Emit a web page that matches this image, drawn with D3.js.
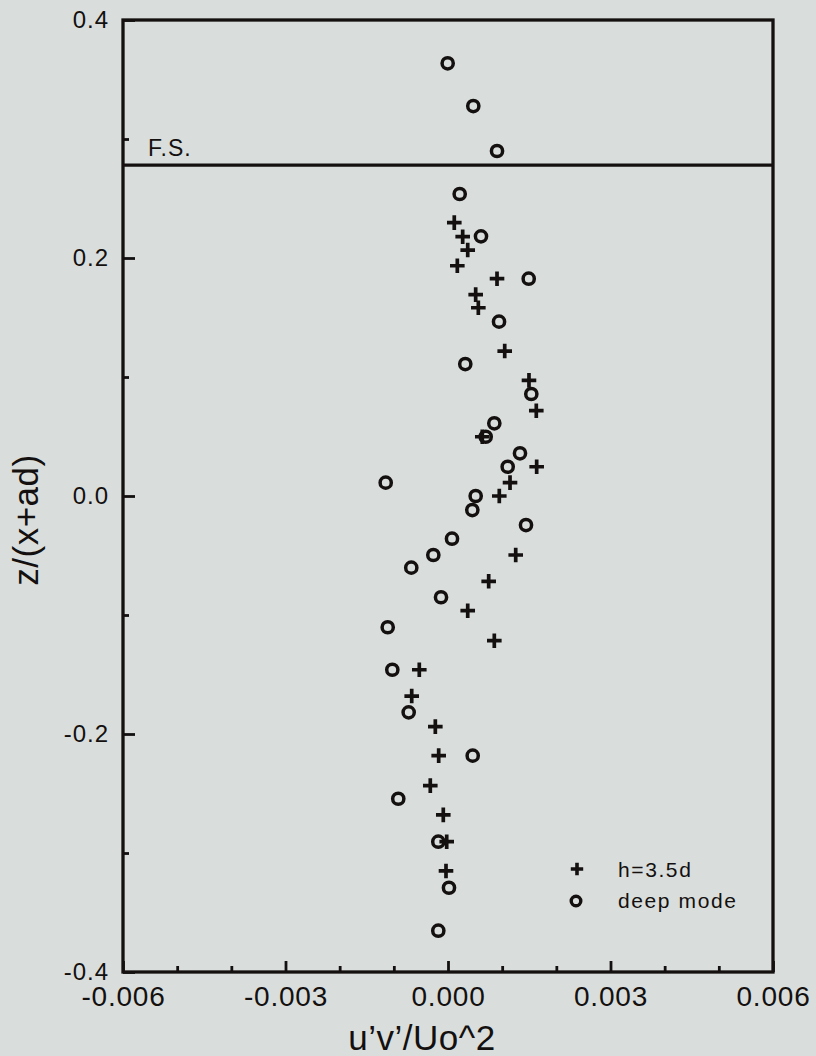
<!DOCTYPE html>
<html>
<head>
<meta charset="utf-8">
<script src="https://cdn.jsdelivr.net/npm/d3@7"></script>
<style>
  html, body { margin: 0; padding: 0; background: #d9dedc; }
  svg { display: block; }
  text { font-family: "Liberation Sans", Arial, sans-serif; fill: #141010; }
</style>
</head>
<body>
<div id="chart"></div>
<script>
// h=3.5d series (plus markers)
const hX = [0.000116, 0.000271, 0.000364, 0.000172, 0.000905, 0.000511, 0.00056, 0.001047,
  0.001495, 0.00163, 0.000633, 0.001637, 0.001145, 0.000947, 0.00125, 0.000751, 0.000364,
  0.000855, -0.00053, -0.00067, -0.000234, -0.000172, -0.000327, -0.000087, -0.000024, -0.000037];
const hZ = [0.2297, 0.2179, 0.2067, 0.1935, 0.1826, 0.1692, 0.1582, 0.1218,
  0.0972, 0.0717, 0.0498, 0.0246, 0.0112, 0.0, -0.0496, -0.0717, -0.0964,
  -0.1216, -0.146, -0.1681, -0.1938, -0.2182, -0.2434, -0.268, -0.2905, -0.3151];

// deep mode series (circle markers)
const deepX = [-0.000006, 0.000467, 0.000905, 0.000216, 0.000609, 0.00149, 0.000942, 0.000319,
  0.001538, 0.000855, 0.000696, 0.001329, 0.001102, -0.00115, 0.000511, 0.000449, 0.00144,
  0.000074, -0.000271, -0.000678, -0.000129, -0.001113, -0.001028, -0.000726, 0.000456,
  -0.000918, -0.000179, 0.000018, -0.000179];
const deepZ = [0.3636, 0.3277, 0.2899, 0.2538, 0.2182, 0.1826, 0.1465, 0.1109,
  0.0857, 0.0611, 0.0498, 0.0359, 0.0246, 0.0112, 0.0, -0.0118, -0.0244,
  -0.0359, -0.0496, -0.0602, -0.0851, -0.1103, -0.146, -0.1818, -0.2182,
  -0.2544, -0.2905, -0.3292, -0.3653];

const freeSurface = 0.278;

const xMajor = [-0.006, -0.003, 0, 0.003, 0.006];
const xMinor = [-0.005, -0.004, -0.002, -0.001, 0.001, 0.002, 0.004, 0.005];
const yMajor = [-0.4, -0.2, 0, 0.2, 0.4];
const yMinor = [-0.3, -0.1, 0.1, 0.3];

const seriesLabels = ["h=3.5d", "deep mode"];

const W = 816, H = 1056;
const ink = "#141010";
const margin = { left: 123, right: W - 773, top: 20, bottom: H - 972 };

const svg = d3.select("#chart").append("svg")
  .attr("width", W).attr("height", H);

svg.append("rect").attr("width", W).attr("height", H).attr("fill", "#d9dedc");

const x = d3.scaleLinear().domain([-0.006, 0.006]).range([margin.left, W - margin.right]);
const y = d3.scaleLinear().domain([-0.4, 0.4]).range([H - margin.bottom, margin.top]);

// minor ticks (no labels)
svg.append("g")
  .attr("transform", `translate(0,${y(-0.4)})`)
  .call(d3.axisBottom(x).tickValues(xMinor).tickSize(-6).tickFormat(""))
  .call(g => g.select(".domain").remove());
svg.append("g")
  .attr("transform", `translate(${x(-0.006)},0)`)
  .call(d3.axisLeft(y).tickValues(yMinor).tickSize(-6).tickFormat(""))
  .call(g => g.select(".domain").remove());

// major ticks with labels
const xAxis = svg.append("g")
  .attr("transform", `translate(0,${y(-0.4)})`)
  .call(d3.axisBottom(x).tickValues(xMajor).tickSize(-11).tickPadding(14)
    .tickFormat(d => d.toFixed(3)))
  .call(g => g.select(".domain").remove());
xAxis.selectAll("text")
  .style("font-size", "28px").style("letter-spacing", "0.8px")
  .attr("font-family", null).attr("fill", ink);

const yAxis = svg.append("g")
  .attr("transform", `translate(${x(-0.006)},0)`)
  .call(d3.axisLeft(y).tickValues(yMajor).tickSize(-12).tickPadding(14)
    .tickFormat(d => d.toFixed(1)))
  .call(g => g.select(".domain").remove());
yAxis.selectAll("text")
  .style("font-size", "24px").style("letter-spacing", "1px")
  .attr("font-family", null).attr("fill", ink);

svg.selectAll(".tick line").attr("stroke", ink).attr("stroke-width", 2.8);

// frame
svg.append("rect")
  .attr("x", x(-0.006)).attr("y", y(0.4))
  .attr("width", x(0.006) - x(-0.006)).attr("height", y(-0.4) - y(0.4))
  .attr("fill", "none").attr("stroke", ink).attr("stroke-width", 3.3);

// free surface line
svg.append("line")
  .attr("x1", x(-0.006)).attr("x2", x(0.006))
  .attr("y1", y(freeSurface)).attr("y2", y(freeSurface))
  .attr("stroke", ink).attr("stroke-width", 3.3);
svg.append("text")
  .attr("x", x(-0.006) + 25).attr("y", y(freeSurface) - 9)
  .style("font-size", "23px").style("letter-spacing", "1px")
  .text("F.S.");

const plusPath = (s) => `M${-s},0H${s}M0,${-s}V${s}`;

// markers
svg.append("g").selectAll("path")
  .data(d3.zip(hX, hZ))
  .join("path")
  .attr("transform", d => `translate(${x(d[0])},${y(d[1])})`)
  .attr("d", plusPath(7.3))
  .attr("stroke", ink).attr("stroke-width", 3.7).attr("fill", "none");

svg.append("g").selectAll("circle")
  .data(d3.zip(deepX, deepZ))
  .join("circle")
  .attr("cx", d => x(d[0])).attr("cy", d => y(d[1]))
  .attr("r", 5.6)
  .attr("stroke", ink).attr("stroke-width", 3.5).attr("fill", "none");

// legend
const legend = svg.append("g").attr("transform", "translate(577,869)");
legend.append("path").attr("d", plusPath(6.2)).attr("stroke", ink).attr("stroke-width", 3.6);
legend.append("circle").attr("cx", -1).attr("cy", 32).attr("r", 4.8)
  .attr("stroke", ink).attr("stroke-width", 3.4).attr("fill", "none");
legend.selectAll("text")
  .data(seriesLabels)
  .join("text")
  .attr("x", 41).attr("y", (d, i) => 8 + i * 31)
  .style("font-size", "21px").style("letter-spacing", "1.6px")
  .text(d => d);

// axis titles
svg.append("text")
  .attr("x", 422).attr("y", 1050)
  .attr("text-anchor", "middle")
  .style("font-size", "35px").style("letter-spacing", "0.5px")
  .text("u\u2019v\u2019/Uo^2");

svg.append("text")
  .attr("transform", "translate(38,520) rotate(-90)")
  .attr("text-anchor", "middle")
  .style("font-size", "35px").style("letter-spacing", "0.5px")
  .text("z/(x+ad)");
</script>
</body>
</html>
